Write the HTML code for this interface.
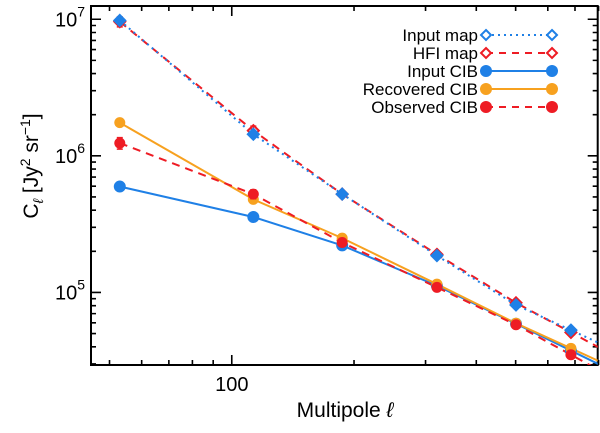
<!DOCTYPE html>
<html><head><meta charset="utf-8"><style>
html,body{margin:0;padding:0;background:#fff;}
svg{display:block;font-family:"Liberation Sans",sans-serif;}
</style></head><body>
<svg id="chart" width="600" height="433" viewBox="0 0 600 433" xmlns="http://www.w3.org/2000/svg">
<g id="axes"></g>
<g id="series"></g>
<g id="legend"></g>
<text transform="translate(38,166) rotate(-90)" text-anchor="middle" font-size="21">C<tspan font-size="14" dy="5" font-style="italic">ℓ</tspan><tspan dy="-5"> [Jy</tspan><tspan font-size="14" dy="-8">2</tspan><tspan dy="8"> sr</tspan><tspan font-size="14" dy="-8">−1</tspan><tspan dy="8">]</tspan></text>
<text x="345" y="417" text-anchor="middle" font-size="21">Multipole <tspan font-style="italic">ℓ</tspan></text>
</svg>
<script>
const ells = [53, 113, 187, 320, 501, 684];
const inputMap = [9.8e6, 1.44e6, 5.25e5, 1.86e5, 8.1e4, 5.3e4];
const hfiMap = [9.6e6, 1.53e6, 5.25e5, 1.9e5, 8.4e4, 5.1e4];
const inputCIB = [5.96e5, 3.57e5, 2.21e5, 1.12e5, 5.9e4, 3.75e4];
const recoveredCIB = [1.75e6, 4.8e5, 2.5e5, 1.15e5, 5.95e4, 3.9e4];
const observedCIB = [1.24e6, 5.25e5, 2.32e5, 1.09e5, 5.8e4, 3.5e4];
const observedErr = [0.12e6, 0.04e6, 0.01e5, 0.03e5, 0.02e4, 0.1e4];
const hfiErr = [0.8e6, 0.12e6, 0.2e5, 0.05e5, 0.2e4, 0.1e4];
const xMinorTicks = [50, 60, 70, 80, 90, 200, 300, 400, 500, 600, 700, 800];
const xMajorTicks = [100];
const xTickLabels = ["100"];
const yMajorTicks = [1e5, 1e6, 1e7];
const yTickLabels = ["5", "6", "7"];

const L = 91, R = 597.7, T = 6, B = 365;
const xLmin = 1.6534, xLmax = 2.901;
const yLmin = 4.469, yLmax = 7.097;
const X = v => L + (Math.log10(v) - xLmin) / (xLmax - xLmin) * (R - L);
const Y = v => B - (Math.log10(v) - yLmin) / (yLmax - yLmin) * (B - T);
const NS = "http://www.w3.org/2000/svg";
function mk(tag, attrs, parent) {
  const e = document.createElementNS(NS, tag);
  for (const k in attrs) e.setAttribute(k, attrs[k]);
  parent.appendChild(e); return e;
}
const axes = document.getElementById('axes');
const frame = mk('rect', {x: L, y: T, width: R - L, height: B - T, fill: 'none', stroke: '#000', 'stroke-width': 2}, axes);


xMinorTicks.forEach(v => {
  const x = X(v);
  const t = mk('path', {d: `M${x},${B}v-5M${x},${T}v5`, stroke: '#000', 'stroke-width': 1.6}, axes);
  
  
});
xMajorTicks.forEach((v, i) => {
  const x = X(v);
  const t = mk('path', {d: `M${x},${B}v-10M${x},${T}v10`, stroke: '#000', 'stroke-width': 1.6}, axes);
  
  
  const lb = mk('text', {x: x, y: 391, 'text-anchor': 'middle', 'font-size': 20}, axes);
  lb.textContent = xTickLabels[i];
  
  
});
for (let e = 4; e <= 7; e++) {
  for (let m = 2; m <= 9; m++) {
    const v = m * Math.pow(10, e);
    const y = Y(v);
    if (y < T || y > B) continue;
    const t = mk('path', {d: `M${L},${y}h5M${R},${y}h-5`, stroke: '#000', 'stroke-width': 1.6}, axes);
    
    
  }
}
yMajorTicks.forEach((v, i) => {
  const y = Y(v);
  const t = mk('path', {d: `M${L},${y}h10M${R},${y}h-10`, stroke: '#000', 'stroke-width': 1.6}, axes);
  
  
  const lb = mk('text', {x: 85, y: y + 7, 'text-anchor': 'end', 'font-size': 20}, axes);
  
  
  lb.innerHTML = `10<tspan font-size="14" dy="-10">${yTickLabels[i]}</tspan>`;
});

const ser = document.getElementById('series');
const clip = mk('clipPath', {id: 'pc'}, ser);
mk('rect', {x: L, y: T, width: R - L, height: B - T}, clip);
const BLUE = '#1f80e6', RED = '#ee1c24', ORANGE = '#f7a11f';
function line(vals, color, dash, w, name) {
  const pts = ells.map((l, i) => [X(l), Y(vals[i])]);
  const n = pts.length;
  const [x1, y1] = pts[n - 2], [x2, y2] = pts[n - 1];
  const ext = [R + 5, y2 + (y2 - y1) / (x2 - x1) * (R + 5 - x2)];
  pts.push(ext);
  const p = mk('polyline', {points: pts.map(p => p.join(',')).join(' '), fill: 'none', stroke: color, 'stroke-width': w, 'stroke-dasharray': dash, 'clip-path': 'url(#pc)'}, ser);
  
  
}
function errs(vals, errv, color, name) {
  ells.forEach((l, i) => {
    const x = X(l), y1 = Y(vals[i] + errv[i]), y2 = Y(vals[i] - errv[i]);
    const e = mk('path', {d: `M${x},${y1}V${y2}M${x - 3},${y1}h6M${x - 3},${y2}h6`, stroke: color, 'stroke-width': 1.5}, ser);
    
    
  });
}
function diamonds(vals, color, fill, name) {
  ells.forEach((l, i) => {
    const x = X(l), y = Y(vals[i]);
    const d = mk('path', {d: `M${x},${y - 5.5}L${x + 5.5},${y}L${x},${y + 5.5}L${x - 5.5},${y}Z`, fill: fill, stroke: color, 'stroke-width': 2}, ser);
    
    
  });
}
function dots(vals, color, r, name) {
  ells.forEach((l, i) => {
    const c = mk('circle', {cx: X(l), cy: Y(vals[i]), r: r, fill: color}, ser);
    
    
  });
}
line(inputCIB, BLUE, 'none', 2, 'input-cib-line');
line(recoveredCIB, ORANGE, 'none', 2, 'recovered-cib-line');
line(observedCIB, RED, '8,6', 2, 'observed-cib-line');
line(hfiMap, RED, '8,6', 2, 'hfi-map-line');
line(inputMap, BLUE, '2,4', 2, 'input-map-line');
errs(hfiMap, hfiErr, RED, 'hfi-map-errorbar');
diamonds(hfiMap, RED, 'none', 'hfi-map-point');
diamonds(inputMap, BLUE, BLUE, 'input-map-point');
dots(inputCIB, BLUE, 6, 'input-cib-point');
dots(recoveredCIB, ORANGE, 5.5, 'recovered-cib-point');
errs(observedCIB, observedErr, RED, 'observed-cib-errorbar');
dots(observedCIB, RED, 5.5, 'observed-cib-point');

const leg = document.getElementById('legend');
const legNames = ['Input  map', 'HFI  map', 'Input  CIB', 'Recovered  CIB', 'Observed  CIB'];
const legColors = [BLUE, RED, BLUE, ORANGE, RED];
const legDash = ['2,4', '7,6', 'none', 'none', '7,6'];
const legMark = ['diamond', 'diamond', 'dot', 'dot', 'dot'];
const legKeys = ['input-map', 'hfi-map', 'input-cib', 'recovered-cib', 'observed-cib'];
legNames.forEach((nm, i) => {
  const y = 35 + i * 18;
  const g = mk('g', {}, leg);
  
  
  const t = mk('text', {x: 478, y: y + 6, 'text-anchor': 'end', 'font-size': 17, 'xml:space': 'preserve'}, g);
  t.textContent = nm;
  mk('line', {x1: 486, y1: y, x2: 552, y2: y, stroke: legColors[i], 'stroke-width': 2, 'stroke-dasharray': legDash[i]}, g);
  [486, 552].forEach(x => {
    if (legMark[i] === 'diamond') mk('path', {d: `M${x},${y - 5}L${x + 5},${y}L${x},${y + 5}L${x - 5},${y}Z`, fill: '#fff', stroke: legColors[i], 'stroke-width': 2}, g);
    else mk('circle', {cx: x, cy: y, r: 6, fill: legColors[i]}, g);
  });
});
</script>
</body></html>
